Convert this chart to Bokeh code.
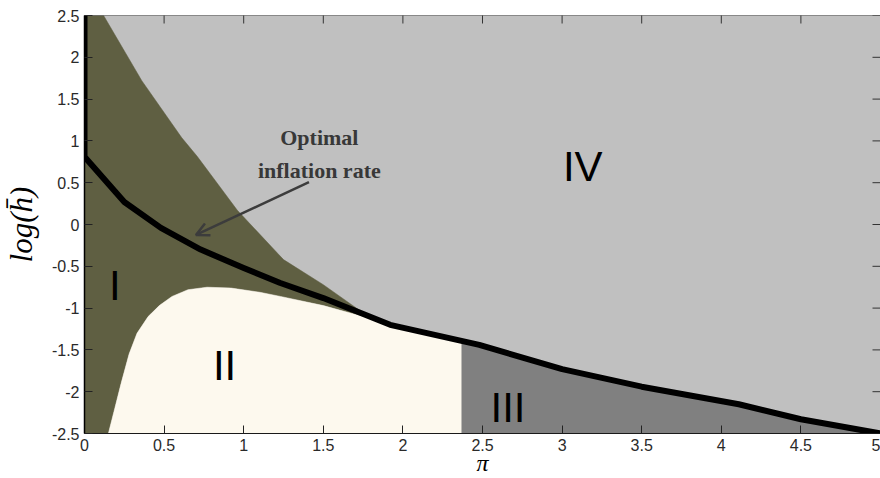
import numpy as np
from bokeh.plotting import figure
from bokeh.models import (Range1d, FixedTicker, LinearAxis, Label, Arrow, OpenHead,
                          ColumnDataSource, Span)
from bokeh.embed import file_html
from bokeh.resources import INLINE
from bokeh.core.properties import value

# ---------------- data ----------------
x_ticks = [0, 0.5, 1, 1.5, 2, 2.5, 3, 3.5, 4, 4.5, 5]
x_tick_labels = ["0", "0.5", "1", "1.5", "2", "2.5", "3", "3.5", "4", "4.5", "5"]
y_ticks = [-2.5, -2, -1.5, -1, -0.5, 0, 0.5, 1, 1.5, 2, 2.5]
y_tick_labels = ["-2.5", "-2", "-1.5", "-1", "-0.5", "0", "0.5", "1", "1.5", "2", "2.5"]

# optimal inflation rate curve
pi_opt = [0, 0, 0.25, 0.48, 0.73, 1.0, 1.23, 1.5, 1.92, 2.48, 3.0, 3.5, 4.11, 4.5, 5.0]
logh_opt = [2.5, 0.81, 0.27, -0.04, -0.30, -0.52, -0.70, -0.88, -1.20, -1.44, -1.73, -1.94, -2.15, -2.33, -2.5]

# boundary between region I and region IV
pi_upper = [0.12, 0.36, 0.61, 0.71, 0.96, 1.25, 1.5, 1.76]
logh_upper = [2.5, 1.72, 1.04, 0.81, 0.17, -0.42, -0.72, -1.07]

# boundary between region I and region II
pi_lower = [0.15, 0.19, 0.23, 0.28, 0.33, 0.40, 0.47, 0.55, 0.65, 0.77, 0.92, 1.1, 1.23, 1.5, 1.86]
logh_lower = [-2.5, -2.2, -1.9, -1.55, -1.3, -1.1, -0.97, -0.86, -0.78, -0.75, -0.76, -0.81, -0.86, -0.97, -1.16]

# boundary between region II and region III
pi_iii = 2.37

region_names = ["I", "II", "III", "IV"]
region_pi = [0.19, 0.88, 2.66, 3.13]
region_logh = [-0.73, -1.69, -2.19, 0.69]

x_min, x_max = 0, 5
y_min, y_max = -2.5, 2.5

col_I = "#5f5f42"
col_II = "#fdf9ee"
col_III = "#808080"
col_IV = "#c0c0c0"

# ---------------- geometry from data ----------------
po = np.array(pi_opt[1:])
lo = np.array(logh_opt[1:])
y_at_iii = float(np.interp(pi_iii, po, lo))

xs_I = [x_min] + pi_upper + pi_lower[::-1] + [x_min]
ys_I = [y_max] + logh_upper + logh_lower[::-1] + [y_min]

seg = (po > pi_lower[-1]) & (po < pi_iii)
xs_II = pi_lower + list(po[seg]) + [pi_iii, pi_iii]
ys_II = logh_lower + list(lo[seg]) + [y_at_iii, y_min]

seg3 = po > pi_iii
xs_III = [pi_iii, pi_iii] + list(po[seg3])
ys_III = [y_min, y_at_iii] + list(lo[seg3])

regions = ColumnDataSource(dict(xs=[xs_I, xs_II, xs_III], ys=[ys_I, ys_II, ys_III],
                                color=[col_I, col_II, col_III]))

# ---------------- figure ----------------
p = figure(width=880, height=478, output_backend="svg", toolbar_location=None,
           x_range=Range1d(x_min, x_max), y_range=Range1d(y_min, y_max),
           min_border_left=84, min_border_right=0, min_border_top=15, min_border_bottom=44,
           background_fill_color=col_IV, border_fill_color="white",
           x_axis_location=None, y_axis_location=None)
p.grid.visible = False
p.outline_line_color = None

p.patches("xs", "ys", source=regions, fill_color="color", line_color="color", line_width=0.5)
p.line(pi_opt, logh_opt, line_color="black", line_width=6, line_join="round")

# mirrored tick marks on the top and right edges (half of each dash is clipped away)
p.scatter(x_ticks, [y_max] * len(x_ticks), marker="dash", angle=np.pi / 2, size=16,
          line_color="#333333", line_width=1)
p.scatter([x_max] * len(y_ticks), y_ticks, marker="dash", size=16,
          line_color="#333333", line_width=1)
p.add_layout(Span(location=y_max, dimension="width", line_color="#333333", line_width=1))

labels_src = ColumnDataSource(dict(x=region_pi, y=region_logh, t=region_names))
p.text("x", "y", text="t", source=labels_src, text_align="center", text_baseline="alphabetic",
       text_font=value("Liberation Sans"), text_font_size="42px", text_color="black")

p.add_layout(Arrow(end=OpenHead(size=13, line_color="#3c3c3c", line_width=2.5),
                   x_start=1.41, y_start=0.507, x_end=0.70, y_end=-0.125,
                   line_color="#3c3c3c", line_width=2.5))
for txt, yy in [("Optimal", 1.044), ("inflation rate", 0.650)]:
    p.add_layout(Label(x=1.475, y=yy, text=txt, text_align="center", text_baseline="alphabetic",
                       text_font="Liberation Serif", text_font_style="bold",
                       text_font_size="22px", text_color="#383838"))

# axes
def style_axis(ax):
    ax.major_tick_in = 8
    ax.major_tick_out = 0
    ax.minor_tick_in = 0
    ax.minor_tick_out = 0
    ax.major_tick_line_color = "#222222"
    ax.major_label_text_font = "Liberation Sans"
    ax.major_label_text_color = "#2a2a2a"
    ax.major_label_text_font_size = "16px"
    ax.major_label_standoff = 5

xb = LinearAxis(ticker=FixedTicker(ticks=x_ticks),
                major_label_overrides=dict(zip(x_ticks, x_tick_labels)),
                axis_label="\u03c0", axis_label_standoff=-4,
                axis_label_text_font="Liberation Serif", axis_label_text_font_style="italic",
                axis_label_text_font_size="24px", axis_label_text_color="black")
style_axis(xb)
xb.axis_line_color = "#1a1a1a"
p.add_layout(xb, "below")

yl = LinearAxis(ticker=FixedTicker(ticks=y_ticks),
                major_label_overrides=dict(zip(y_ticks, y_tick_labels)),
                axis_label="log(h\u0304)", axis_label_standoff=10,
                axis_label_text_font="Liberation Serif", axis_label_text_font_style="italic",
                axis_label_text_font_size="31px", axis_label_text_color="black")
style_axis(yl)
yl.axis_line_color = "black"
yl.axis_line_width = 1.5
p.add_layout(yl, "left")

open("out.html", "w").write(file_html(p, INLINE))
